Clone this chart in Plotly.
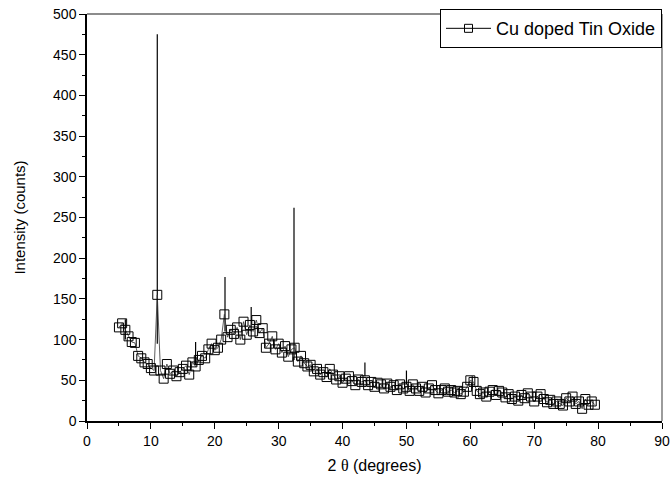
import plotly.graph_objects as go

# Marker points (2θ in degrees, intensity in counts)
two_theta = [
    5.0, 5.5, 6.0, 6.5, 7.0, 7.5, 8.0, 8.5, 9.0, 9.5, 10.0, 10.5, 11.0, 11.5, 12.0, 12.5,
    13.0, 13.5, 14.0, 14.5, 15.0, 15.5, 16.0, 16.5, 17.0, 17.5, 18.0, 18.5, 19.0, 19.5,
    20.0, 20.5, 21.0, 21.5, 22.0, 22.5, 23.0, 23.5, 24.0, 24.5, 25.0, 25.5, 26.0, 26.5,
    27.0, 27.5, 28.0, 28.5, 29.0, 29.5, 30.0, 30.5, 31.0, 31.5, 32.0, 32.5, 33.0, 33.5,
    34.0, 34.5, 35.0, 35.5, 36.0, 36.5, 37.0, 37.5, 38.0, 38.5, 39.0, 39.5, 40.0, 40.5,
    41.0, 41.5, 42.0, 42.5, 43.0, 43.5, 44.0, 44.5, 45.0, 45.5, 46.0, 46.5, 47.0, 47.5,
    48.0, 48.5, 49.0, 49.5, 50.0, 50.5, 51.0, 51.5, 52.0, 52.5, 53.0, 53.5, 54.0, 54.5,
    55.0, 55.5, 56.0, 56.5, 57.0, 57.5, 58.0, 58.5, 59.0, 59.5, 60.0, 60.5, 61.0, 61.5,
    62.0, 62.5, 63.0, 63.5, 64.0, 64.5, 65.0, 65.5, 66.0, 66.5, 67.0, 67.5, 68.0, 68.5,
    69.0, 69.5, 70.0, 70.5, 71.0, 71.5, 72.0, 72.5, 73.0, 73.5, 74.0, 74.5, 75.0, 75.5,
    76.0, 76.5, 77.0, 77.5, 78.0, 78.5, 79.0, 79.5,
]
intensity = [
    115, 120, 112, 104, 97, 96, 80, 77, 72, 70, 65, 62, 155, 62, 52, 70,
    58, 62, 55, 60, 64, 68, 57, 72, 67, 75, 80, 77, 88, 95,
    87, 90, 100, 131, 103, 112, 107, 115, 100, 122, 106, 118, 110, 124,
    108, 114, 90, 95, 104, 88, 95, 84, 92, 79, 88, 90, 73, 80,
    71, 67, 69, 61, 64, 57, 60, 54, 64, 57, 51, 55, 47, 52,
    55, 49, 44, 51, 48, 50, 44, 48, 42, 47, 45, 40, 46, 42,
    44, 38, 45, 40, 42, 37, 45, 40, 37, 42, 35, 40, 44, 38,
    34, 38, 40, 36, 38, 35, 37, 33, 36, 42, 50, 48, 37, 33,
    35, 30, 36, 38, 32, 37, 35, 29, 33, 27, 30, 25, 32, 28,
    34, 30, 24, 30, 33, 27, 23, 26, 21, 24, 21, 19, 28, 24,
    30, 21, 24, 15, 27, 20, 24, 20,
]

# Sharp reflections drawn as thin vertical lines
spike_pos = [6.0, 11.0, 17.0, 21.6, 25.7, 32.4, 43.5, 50.0, 60.3]
spike_base = [100, 95, 70, 110, 110, 75, 55, 45, 40]
spike_top = [125, 475, 97, 177, 140, 262, 72, 62, 55]

series_name = "Cu doped Tin Oxide"

sx, sy = [], []
for p, b, t in zip(spike_pos, spike_base, spike_top):
    sx += [p, p, None]
    sy += [b, t, None]

fig = go.Figure()
fig.add_trace(go.Scatter(x=sx, y=sy, mode="lines",
                         line=dict(color="black", width=1.2),
                         showlegend=False, hoverinfo="skip"))
fig.add_trace(go.Scatter(x=two_theta, y=intensity, mode="lines+markers",
                         line=dict(color="#333", width=0.8),
                         marker=dict(symbol="square-open", size=9,
                                     color="black", line=dict(width=1)),
                         showlegend=False))
fig.add_trace(go.Scatter(x=[None], y=[None], mode="lines+markers", name=series_name,
                         line=dict(color="black", width=1),
                         marker=dict(symbol="square-open", size=8, color="black",
                                     line=dict(width=1)),
                         showlegend=True))

axis_font = dict(family="Liberation Sans, Arial, sans-serif", size=14, color="black")
fig.update_layout(
    width=671, height=481,
    margin=dict(l=87, r=9, t=14, b=60),
    paper_bgcolor="white", plot_bgcolor="white",
    font=axis_font,
    xaxis=dict(range=[0, 90], tick0=0, dtick=10, ticks="outside", ticklen=6,
               tickwidth=1.3, tickcolor="black", showline=True, linecolor="black",
               linewidth=1.5, showgrid=False, zeroline=False, automargin=False,
               minor=dict(dtick=5, ticks="outside", ticklen=3, tickcolor="black"),
               title=dict(text="2 <span style='font-family:Liberation Serif'>θ</span> (degrees)",
                          font=dict(size=16), standoff=12)),
    yaxis=dict(range=[0, 500], tick0=0, dtick=50, ticks="outside", ticklen=6,
               tickwidth=1.3, tickcolor="black", showline=True, linecolor="black",
               linewidth=1.5, showgrid=False, zeroline=False, automargin=False,
               minor=dict(dtick=25, ticks="outside", ticklen=3, tickcolor="black"),
               title=dict(text="Intensity (counts)", font=dict(size=15), standoff=24)),
    legend=dict(x=1, xanchor="right", y=1.012, yanchor="top",
                bordercolor="black", borderwidth=1, bgcolor="white",
                font=dict(size=18), itemwidth=45, tracegroupgap=0),
    shapes=[dict(type="line", xref="paper", yref="paper", x0=0, x1=1, y0=1, y1=1,
                 line=dict(color="#666", width=1.3)),
            dict(type="line", xref="paper", yref="paper", x0=1, x1=1, y0=0, y1=1,
                 line=dict(color="#666", width=1.3))],
)

fig.write_html("out.html", config={"displayModeBar": False},
               post_script="document.body.style.margin='0';document.body.style.overflow='hidden';")
